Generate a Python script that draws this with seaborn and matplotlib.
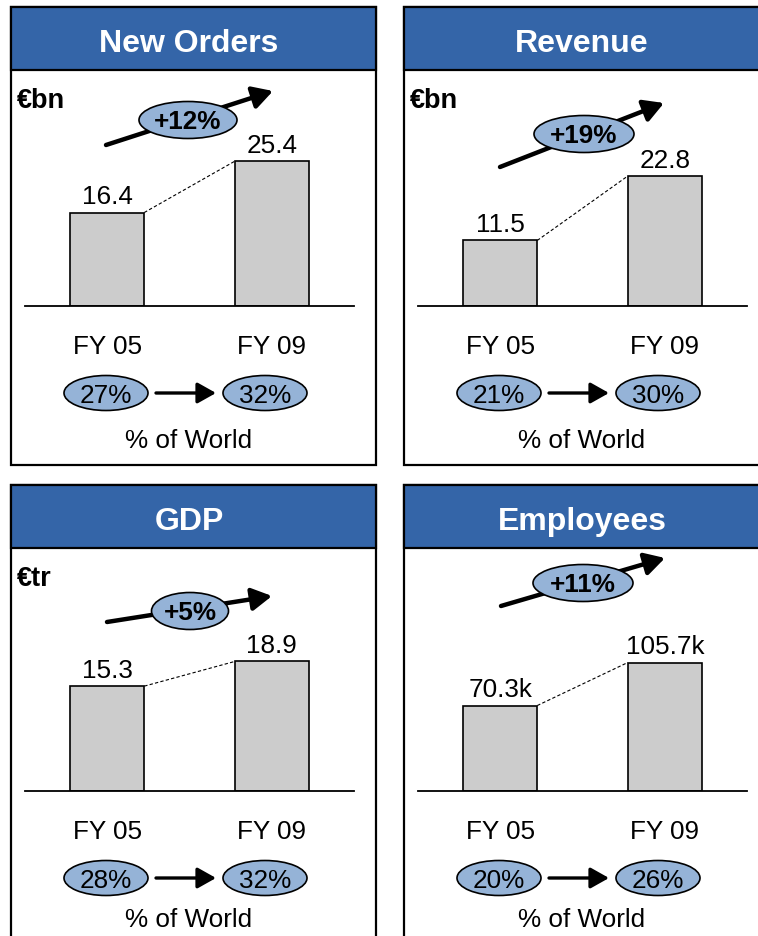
import numpy as np
import pandas as pd
import matplotlib.pyplot as plt
import seaborn as sns
from matplotlib.patches import Rectangle, Ellipse, FancyArrowPatch

sns.set_style("white")
plt.rcParams['font.family'] = ['Liberation Sans', 'DejaVu Sans']
plt.rcParams['text.color'] = 'black'
plt.rcParams['xtick.color'] = 'black'
plt.rcParams['xtick.labelcolor'] = 'black'

# ---- data ----
metrics = ["New Orders", "Revenue", "GDP", "Employees"]
units = ["€bn", "€bn", "€tr", ""]
years = ["FY 05", "FY 09"]
fy05 = [16.4, 11.5, 15.3, 70.3]
fy09 = [25.4, 22.8, 18.9, 105.7]
suffix = ["", "", "", "k"]
growth = ["+12%", "+19%", "+5%", "+11%"]
share05 = [27, 21, 28, 20]
share09 = [32, 30, 32, 26]
ymax = [38.6, 38.6, 32.1, 181.0]   # value axis range per panel

# ---- layout (pixels) ----
W, H = 758, 937
BLUE = "#3465A8"
LIGHT = "#95B3D7"
BAR = "#CCCCCC"
FS = 18.8
origins = [(11, 8), (404, 8), (11, 486), (404, 486)]
box_right = [376, 770, 376, 770]
box_bottom = [466, 466, 950, 950]
row_shift = [0, 0, 7, 7]
# growth ellipse centre/width and arrow start/end, relative to panel origin
g_ell = [(177, 113, 98), (180, 127, 100), (179, 126, 77), (179, 98, 100)]
g_arrow = [((95, 138), (262, 84)), ((96, 160), (260, 96)),
           ((96, 137), (261, 111)), ((97, 121), (261, 73))]

fig = plt.figure(figsize=(W / 100, H / 100), dpi=100)
bg = fig.add_axes([0, 0, 1, 1], zorder=1)
bg.set_xlim(0, W)
bg.set_ylim(H, 0)
bg.axis('off')

for i in range(4):
    ox, oy = origins[i]
    sh = row_shift[i]

    # box + header
    bg.add_patch(Rectangle((ox, oy), box_right[i] - ox, box_bottom[i] - oy,
                           facecolor='white', edgecolor='black', lw=1.6, zorder=1))
    bg.add_patch(Rectangle((ox, oy), box_right[i] - ox, 63,
                           facecolor=BLUE, edgecolor='black', lw=1.6, zorder=2))
    bg.text(ox + 178, oy + 44, metrics[i], color='white', fontsize=23,
            fontweight='bold', ha='center', va='baseline', zorder=3)
    if units[i]:
        bg.text(ox + 6, oy + 100, units[i], fontsize=19.5, fontweight='bold',
                ha='left', va='baseline', zorder=3)

    # growth arrow + ellipse
    (x0, y0), (x1, y1) = g_arrow[i]
    bg.add_patch(FancyArrowPatch((ox + x0, oy + y0), (ox + x1, oy + y1),
                                 arrowstyle='-|>,head_length=8,head_width=4.5',
                                 mutation_scale=1.5, lw=3.2, color='black',
                                 shrinkA=0, shrinkB=0, zorder=3))
    cx, cy, ew = g_ell[i]
    bg.add_patch(Ellipse((ox + cx, oy + cy), ew, 37, facecolor=LIGHT,
                         edgecolor='black', lw=1.2, zorder=4))
    bg.text(ox + cx, oy + cy + 8, growth[i], fontsize=FS, fontweight='bold',
            ha='center', va='baseline', zorder=5)

    # share of world
    sy = oy + 387 + sh - 1
    for sx, val in [(95, share05[i]), (254, share09[i])]:
        bg.add_patch(Ellipse((ox + sx, sy), 84, 35, facecolor=LIGHT,
                             edgecolor='black', lw=1.2, zorder=4))
        bg.text(ox + sx, sy + 9, f"{val}%", fontsize=FS, ha='center',
                va='baseline', zorder=5)
    bg.add_patch(FancyArrowPatch((ox + 145, sy), (ox + 205, sy),
                                 arrowstyle='-|>,head_length=8,head_width=4.5',
                                 mutation_scale=1.4, lw=2.4, color='black',
                                 shrinkA=0, shrinkB=0, zorder=3))
    bg.text(ox + 178, oy + 440 + sh // 7, "% of World", fontsize=FS,
            ha='center', va='baseline', zorder=5)

    # bar chart
    base = oy + 299 + sh
    ax = fig.add_axes([(ox + 14) / W, 1 - base / H, 329 / W, 220 / H], zorder=2)
    df = pd.DataFrame({"year": years, "value": [fy05[i], fy09[i]]})
    bw = 0.45
    sns.barplot(data=df, x="year", y="value", ax=ax, color=BAR, saturation=1,
                edgecolor='black', linewidth=1.2, width=bw)
    ax.set_xlim(-0.5, 1.5)
    ax.set_ylim(0, ymax[i])
    ax.plot([bw / 2, 1 - bw / 2], [fy05[i], fy09[i]], color='black',
            lw=0.8, ls=(0, (3, 2)))
    ax.bar_label(ax.containers[0],
                 labels=[f"{v}{suffix[i]}" for v in df["value"]],
                 padding=3, fontsize=FS, color='black')
    ax.patch.set_visible(False)
    for s in ['top', 'left', 'right']:
        ax.spines[s].set_visible(False)
    ax.spines['bottom'].set_linewidth(1.3)
    ax.spines['bottom'].set_color('black')
    ax.set_yticks([])
    ax.set_xlabel('')
    ax.set_ylabel('')
    ax.tick_params(axis='x', length=0, pad=20, labelsize=FS, labelcolor='black')

fig.savefig("out.png", dpi=100)
